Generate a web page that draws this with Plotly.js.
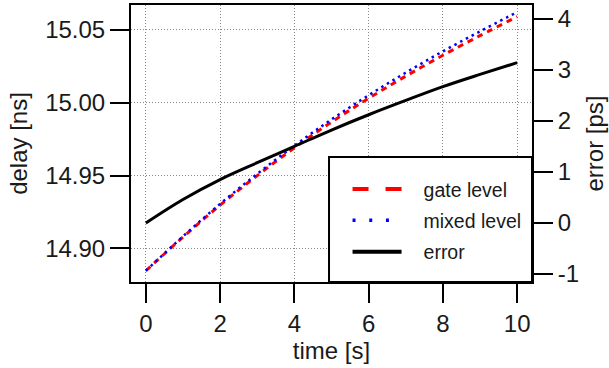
<!DOCTYPE html>
<html>
<head>
<meta charset="utf-8">
<script src="https://cdn.plot.ly/plotly-3.0.1.min.js"></script>
<style>html,body{margin:0;padding:0;background:#fff;}#chart{width:609px;height:368px;}</style>
</head>
<body>
<div id="chart"></div>
<script>
// time [s]
const time = [0, 1, 2, 3, 4, 5, 6, 7, 8, 9, 10];
// delay [ns], gate level simulation
const gateLevel = [14.8847, 14.9078, 14.9297, 14.9500, 14.9690, 14.9867, 15.0030, 15.0182, 15.0325, 15.0460, 15.0590];
// delay [ns], mixed level simulation
const mixedLevel = [14.8847, 14.9083, 14.9306, 14.9512, 14.9705, 14.9885, 15.0051, 15.0206, 15.0352, 15.0489, 15.0621];
// error [ps]
const errorPs = [0.00, 0.46, 0.85, 1.18, 1.50, 1.82, 2.12, 2.40, 2.67, 2.91, 3.14];
const xTicks = [0, 2, 4, 6, 8, 10];
const delayTicks = [14.90, 14.95, 15.00, 15.05];
const errorTicks = [-1, 0, 1, 2, 3, 4];
const names = ['gate level', 'mixed level', 'error'];

const FONT = 'Liberation Sans, Arial, sans-serif';

const traces = [
  {x: time, y: gateLevel, mode: 'lines', line: {color: '#ff0000', width: 3, dash: '6px,5px', shape: 'spline'}, showlegend: false, yaxis: 'y'},
  {x: time, y: mixedLevel, mode: 'lines', line: {color: '#0000ff', width: 2.5, dash: '2.5px,4px', shape: 'spline'}, showlegend: false, yaxis: 'y'},
  {x: time, y: errorPs, mode: 'lines', line: {color: '#000000', width: 3, shape: 'spline'}, showlegend: false, yaxis: 'y2'},
  // legend entries
  {x: [null], y: [null], mode: 'lines', name: names[0], legendgroup: 'a', line: {color: '#ff0000', width: 4, dash: '16px,17px,16px,40px'}, yaxis: 'y'},
  {x: [null], y: [null], mode: 'lines', name: names[1], legendgroup: 'b', line: {color: '#0000ff', width: 3.5, dash: '3px,13.7px,3px,13.7px,3px,40px'}, yaxis: 'y'},
  {x: [null], y: [null], mode: 'lines', name: names[2], legendgroup: 'c', line: {color: '#000000', width: 4, dash: '49px,40px'}, yaxis: 'y2'}
];

const axisCommon = {
  ticks: 'outside', ticklen: 19, tickwidth: 2, tickcolor: '#000',
  showline: true, linewidth: 2, linecolor: '#000',
  zeroline: false,
  tickfont: {family: FONT, size: 24, color: '#1a1a1a'}
};

const layout = {
  width: 609, height: 368,
  margin: {l: 131, r: 77, t: 5, b: 86},
  paper_bgcolor: '#fff', plot_bgcolor: '#fff',
  font: {family: FONT, color: '#1a1a1a'},
  xaxis: Object.assign({}, axisCommon, {
    range: [-0.4, 10.4], tickvals: xTicks, ticktext: xTicks.map(String),
    mirror: true,
    showgrid: true, gridcolor: '#888', griddash: '1px,2px', gridwidth: 1,
    title: {text: 'time [s]', font: {family: FONT, size: 24, color: '#1a1a1a'}, standoff: 2}
  }),
  yaxis: Object.assign({}, axisCommon, {
    range: [14.877, 15.067], tickvals: delayTicks, ticktext: delayTicks.map(v => v.toFixed(2)),
    showgrid: true, gridcolor: '#888', griddash: '1px,2px', gridwidth: 1,
    title: {text: 'delay [ns]', font: {family: FONT, size: 24, color: '#1a1a1a'}, standoff: 11}
  }),
  yaxis2: Object.assign({}, axisCommon, {
    overlaying: 'y', side: 'right', anchor: 'x',
    range: [-1.157, 4.27], tickvals: errorTicks, ticktext: errorTicks.map(String),
    showgrid: false,
    title: {text: 'error [ps]', font: {family: FONT, size: 24, color: '#1a1a1a'}, standoff: 8}
  }),
  shapes: [
    {type: 'rect', xref: 'paper', yref: 'paper', x0: 0.4938, x1: 1.0, y0: 0, y1: 0.451,
     fillcolor: '#fff', line: {color: '#000', width: 2}, layer: 'above'}
  ],
  legend: {
    x: 0.54, y: 0.405, xanchor: 'left', yanchor: 'top',
    bgcolor: 'rgba(0,0,0,0)', borderwidth: 0,
    font: {family: FONT, size: 19.5, color: '#1a1a1a'},
    itemwidth: 66, tracegroupgap: 3, traceorder: 'grouped'
  },
  showlegend: true
};

Plotly.newPlot('chart', traces, layout, {staticPlot: true, displayModeBar: false});
</script>
</body>
</html>
